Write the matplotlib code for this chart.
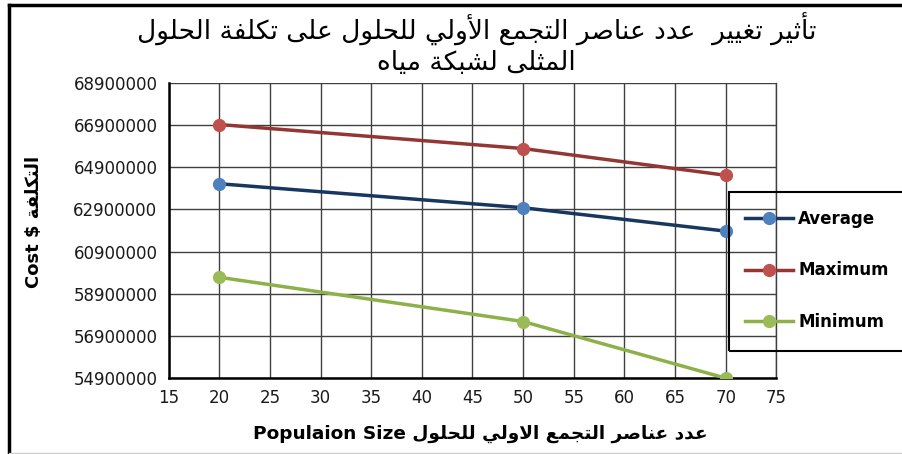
import matplotlib
matplotlib.use("Agg")
import matplotlib.pyplot as plt
from matplotlib.lines import Line2D
from matplotlib.patches import Rectangle

# data
pop_size = [20, 50, 70]
cost_avg = [64120000, 62980000, 61870000]
cost_max = [66930000, 65790000, 64520000]
cost_min = [59680000, 57580000, 54890000]
series_names = ["Average", "Maximum", "Minimum"]

title_l1 = "تأثير تغيير  عدد عناصر التجمع الأولي للحلول على تكلفة الحلول"
title_l2 = "المثلى لشبكة مياه"
xlabel_ar = "عدد عناصر التجمع الاولي للحلول"
ylabel_ar = "التكلفة"

y_ticks = list(range(54900000, 68900001, 2000000))
x_ticks = list(range(15, 76, 5))


# matplotlib does no Arabic shaping, so map letters to presentation forms
# base code: isolated form; dual-joining letters have fin/ini/med at +1/+2/+3
DUAL = {"ب": 0xFE8F, "ت": 0xFE95, "ث": 0xFE99, "ج": 0xFE9D, "ح": 0xFEA1,
        "ش": 0xFEB5, "ص": 0xFEB9, "ع": 0xFEC9, "غ": 0xFECD, "ف": 0xFED1,
        "ك": 0xFED9, "ل": 0xFEDD, "م": 0xFEE1, "ن": 0xFEE5, "ه": 0xFEE9,
        "ي": 0xFEF1}
RIGHT = {"ا": 0xFE8D, "أ": 0xFE83, "ة": 0xFE93, "د": 0xFEA9, "ر": 0xFEAD,
         "و": 0xFEED, "ى": 0xFEEF, "لا": 0xFEFB, "لأ": 0xFEF7}


def shape(text):
    chars = []
    i = 0
    while i < len(text):
        if text[i] == "ل" and i + 1 < len(text) and text[i + 1] in "اأ":
            chars.append(text[i:i + 2])
            i += 2
        else:
            chars.append(text[i])
            i += 1
    out = []
    for k, c in enumerate(chars):
        prev = chars[k - 1] if k > 0 else " "
        nxt = chars[k + 1] if k + 1 < len(chars) else " "
        join_prev = prev in DUAL
        join_next = c in DUAL and (nxt in DUAL or nxt in RIGHT)
        if c in DUAL:
            off = {(False, False): 0, (True, False): 1,
                   (False, True): 2, (True, True): 3}[(join_prev, join_next)]
            out.append(chr(DUAL[c] + off))
        elif c in RIGHT:
            out.append(chr(RIGHT[c] + (1 if join_prev else 0)))
        else:
            out.append(c)
    return "".join(out)[::-1]


plt.rcParams["font.family"] = ["DejaVu Sans"]

fig = plt.figure(figsize=(9.03, 4.54), dpi=100)
ax = fig.add_axes([168.5 / 903, 1 - 378 / 454, (776.5 - 168.5) / 903, (378 - 83) / 454])

ax.plot(pop_size, cost_avg, "-o", color="#17375E", lw=2.5, ms=8.5,
        mfc="#4F81BD", mec="#4F81BD", label=series_names[0], zorder=3)
ax.plot(pop_size, cost_max, "-o", color="#943634", lw=2.5, ms=8.5,
        mfc="#C0504D", mec="#C0504D", label=series_names[1], zorder=3)
ax.plot(pop_size, cost_min, "-o", color="#8DB048", lw=2.5, ms=8.5,
        mfc="#9BBB59", mec="#9BBB59", label=series_names[2], zorder=3)

ax.set_xlim(15, 75)
ax.set_ylim(54900000, 68900000)
ax.set_xticks(x_ticks)
ax.set_yticks(y_ticks)
ax.set_yticklabels([str(v) for v in y_ticks])
ax.tick_params(length=0, labelsize=12, pad=8, labelcolor="#1a1a1a")
ax.grid(True, color="#404040", lw=1.0)
ax.set_axisbelow(True)
ax.spines["top"].set_visible(False)
ax.spines["right"].set_color("#404040")
ax.spines["right"].set_linewidth(1.0)
for side in ["left", "bottom"]:
    ax.spines[side].set_linewidth(1.8)

ax.set_xlabel("Populaion Size " + shape(xlabel_ar), fontsize=13.3,
              fontweight="bold")
ax.xaxis.set_label_coords((480 - 168.5) / 608, (378 - 425) / 295)
ax.set_ylabel("Cost $ " + shape(ylabel_ar), fontsize=13,
              fontweight="bold")
ax.yaxis.set_label_coords((43 - 168.5) / 608, (378 - 222) / 295)

fig.text(0.528, 0.935, shape(title_l1), ha="center", va="center", fontsize=19)
fig.text(0.528, 0.862, shape(title_l2), ha="center", va="center", fontsize=19)

leg = fig.legend(loc="upper left", bbox_to_anchor=(730 / 903, 1 - 195 / 454),
                 frameon=False, fontsize=12, handlelength=2.9,
                 handletextpad=0.3, labelspacing=2.0)
for t in leg.get_texts():
    t.set_fontweight("bold")

fig.patches.append(Rectangle((729 / 903, 1 - 351 / 454), 0.2, 159 / 454,
                             transform=fig.transFigure, fill=False,
                             ec="black", lw=1.5))
# outer chart border: thick top and left, faint bottom
fig.add_artist(Line2D([9 / 903, 1], [1 - 5 / 454, 1 - 5 / 454],
                      transform=fig.transFigure, color="black", lw=2.5))
fig.add_artist(Line2D([9 / 903, 9 / 903], [0, 1 - 5 / 454],
                      transform=fig.transFigure, color="black", lw=2.5))
fig.add_artist(Line2D([9 / 903, 1], [1.5 / 454, 1.5 / 454],
                      transform=fig.transFigure, color="#cccccc", lw=1.0))

fig.savefig("out.png", dpi=100)
